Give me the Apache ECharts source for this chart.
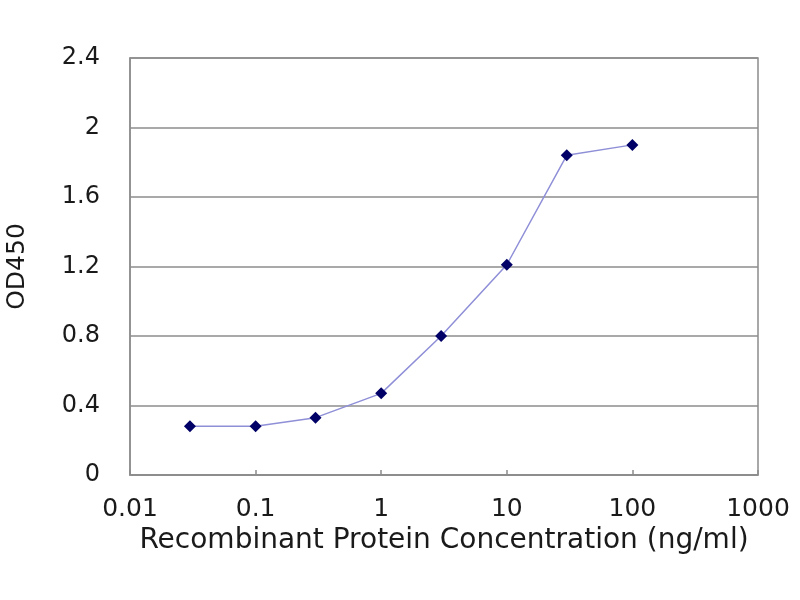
<!DOCTYPE html>
<html>
<head>
<meta charset="utf-8">
<script src="https://cdn.jsdelivr.net/npm/echarts@6/dist/echarts.min.js"></script>
<style>html,body{margin:0;padding:0;background:#fff}#c{width:800px;height:600px}</style>
</head>
<body>
<div id="c"></div>
<script>
const concentrations = [0.03, 0.1, 0.3, 1, 3, 10, 30, 100];
const od450 = [0.28, 0.28, 0.33, 0.47, 0.80, 1.21, 1.84, 1.90];
const yTicks = [0, 0.4, 0.8, 1.2, 1.6, 2, 2.4];
const xTicks = ['0.01', '0.1', '1', '10', '100', '1000'];

const chart = echarts.init(document.getElementById('c'));
const fontFamily = 'DejaVu Sans';
chart.setOption({
  backgroundColor: '#ffffff',
  animation: false,
  grid: { left: 130, right: 42, top: 58, bottom: 125, outerBoundsMode: 'none', containLabel: false,
    show: true, borderColor: '#8c8c8c', borderWidth: 1.5, backgroundColor: 'transparent' },
  xAxis: {
    type: 'log', logBase: 10, min: 0.01, max: 1000,
    name: 'Recombinant Protein Concentration (ng/ml)',
    nameLocation: 'middle', nameGap: 42,
    nameTextStyle: { fontFamily, fontSize: 28, color: '#1a1a1a' },
    axisLine: { show: true, lineStyle: { color: '#8c8c8c', width: 1.5 } },
    axisTick: { show: true, inside: true, length: 5, lineStyle: { color: '#8c8c8c', width: 1.5 } },
    splitLine: { show: false },
    minorTick: { show: false },
    axisLabel: { fontFamily, fontSize: 25, color: '#1a1a1a', margin: 22,
      formatter: v => String(Number(v.toPrecision(6))) }
  },
  yAxis: {
    type: 'value', min: yTicks[0], max: yTicks[yTicks.length - 1], interval: 0.4,
    name: 'OD450', nameLocation: 'middle', nameGap: 100, nameRotate: 90,
    nameTextStyle: { fontFamily, fontSize: 25, color: '#1a1a1a' },
    axisLine: { show: true, lineStyle: { color: '#8c8c8c', width: 1.5 } },
    axisTick: { show: false },
    splitLine: { show: true, lineStyle: { color: '#8c8c8c', width: 1.5 } },
    axisLabel: { fontFamily, fontSize: 24, color: '#1a1a1a', margin: 30,
      formatter: v => String(Number(v.toPrecision(6))) }
  },
  series: [{
    type: 'line',
    data: concentrations.map((c, i) => [c, od450[i]]),
    smooth: false,
    symbol: 'diamond', symbolSize: 12,
    itemStyle: { color: '#000066' },
    lineStyle: { color: '#8f8fd8', width: 1.5 }
  }]
});
</script>
</body>
</html>
